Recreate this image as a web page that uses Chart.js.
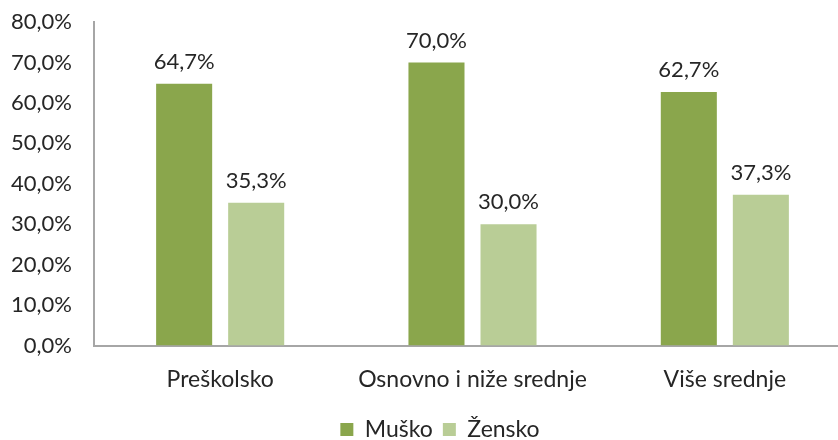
<!DOCTYPE html>
<html>
<head>
<meta charset="utf-8">
<script src="https://cdn.jsdelivr.net/npm/chart.js@4"></script>
<style>
  body { margin: 0; overflow: hidden; background: #fff; }
  #wrap { width: 858px; height: 440px; }
</style>
</head>
<body>
<div id="wrap"><canvas id="myChart" width="858" height="440"></canvas></div>
<script>
// gender share by education level
const categories = ['Preškolsko', 'Osnovno i niže srednje', 'Više srednje']
const musko = [64.7, 70.0, 62.7]
const zensko = [35.3, 30.0, 37.3]
const seriesNames = ['Muško', 'Žensko']

const fontFamily = 'Lato, "Open Sans", sans-serif'
const textColor = '#262626'
const fontSize = 22

function fmt(v) {
    return Number(v).toFixed(1).replace('.', ',') + '%'
}

// draws the value above each bar
const barLabels = {
    id: 'barLabels',
    afterDatasetsDraw(chart) {
        const ctx = chart.ctx
        ctx.save()
        ctx.font = fontSize + 'px ' + fontFamily
        ctx.fillStyle = textColor
        ctx.textAlign = 'center'
        ctx.textBaseline = 'middle'
        chart.data.datasets.forEach((ds, i) => {
            const meta = chart.getDatasetMeta(i)
            meta.data.forEach((bar, j) => {
                ctx.fillText(fmt(ds.data[j]), bar.x, bar.y - 22)
            })
        })
        ctx.restore()
    }
}

// centre the legend like the original (canvas is wider than the window)
const legendShift = {
    id: 'legendShift',
    afterLayout(chart) {
        if (chart.legend) {
            chart.legend.left = 29
            chart.legend.top += 11
        }
    }
}

const ctx = document.getElementById('myChart')
new Chart(ctx, {
    type: 'bar',
    data: {
        labels: categories,
        datasets: [{
            label: seriesNames[0],
            data: musko,
            backgroundColor: '#8aa64c',
            categoryPercentage: 0.571,
            barPercentage: 0.778
        }, {
            label: seriesNames[1],
            data: zensko,
            backgroundColor: '#b9cd96',
            categoryPercentage: 0.571,
            barPercentage: 0.778
        }]
    },
    options: {
        responsive: false,
        animation: false,
        layout: {
            padding: { left: 0, right: 7, top: 22, bottom: 0 }
        },
        scales: {
            x: {
                grid: { display: false, drawTicks: false },
                border: { display: true, color: '#a6a6a6', width: 2 },
                ticks: {
                    color: textColor,
                    padding: 20,
                    font: { family: fontFamily, size: 23 }
                },
                afterFit(scale) {
                    scale.height = 51.5
                }
            },
            y: {
                min: 0,
                max: 80,
                grid: { display: false, drawTicks: false },
                border: { display: true, color: '#a6a6a6', width: 2 },
                ticks: {
                    stepSize: 10,
                    color: textColor,
                    padding: 22,
                    font: { family: fontFamily, size: fontSize },
                    callback: (v) => fmt(v)
                },
                afterFit(scale) {
                    scale.width = 94
                    scale.paddingTop = 0
                    scale.paddingBottom = 0
                }
            }
        },
        plugins: {
            legend: {
                display: true,
                position: 'bottom',
                labels: {
                    color: textColor,
                    boxWidth: 13,
                    boxHeight: 13,
                    padding: 10,
                    font: { family: fontFamily, size: 23 }
                }
            },
            tooltip: { enabled: false }
        }
    },
    plugins: [barLabels, legendShift]
})
</script>
</body>
</html>
